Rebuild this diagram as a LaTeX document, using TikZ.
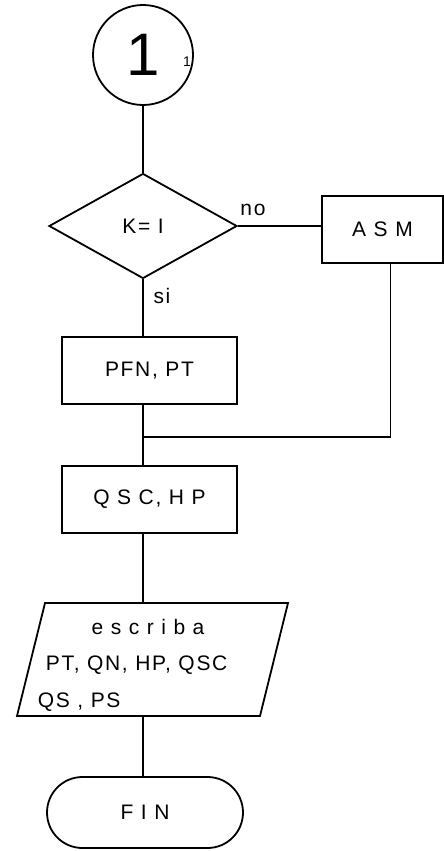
\documentclass[tikz,border=0pt]{standalone}
\usepackage{fontspec}
\setmainfont{Liberation Sans}[LetterSpace=8]
\usetikzlibrary{shapes.geometric,shapes.misc}

\begin{document}
\begin{tikzpicture}[x=1pt,y=-1pt,line width=1.8pt,
    every node/.style={font=\fontsize{21}{25}\selectfont},
    proc/.style={draw,rectangle,inner sep=0pt,minimum width=175pt,minimum height=67pt}]
    \useasboundingbox (0,0) rectangle (444,851);
    % connector and decision
    \node[draw,circle,minimum size=100pt,inner sep=0pt,font=\fontsize{60}{60}\selectfont] (con) at (143,55){1};
    \node[font=\fontsize{14}{14}\selectfont] (conn) at (187,62){1};
    \node[draw,diamond,minimum width=188pt,minimum height=105pt,inner sep=0pt] (dec) at (143,226){K= I};
    \node (no) at (253,210){no};
    \node (si) at (162,296){si};
    \node[proc,minimum width=121pt] (asm) at (382.5,229.5){A S M};
    % processes
    \node[proc] (pfn) at (149.5,370.5){PFN, PT};
    \node[proc] (qsc) at (149.5,499.5){Q S C, H P};
    \draw (45,603) -- (288,603) -- (260,716) -- (17,716) -- cycle;
    \coordinate (escn) at (143,603);
    \coordinate (escs) at (143,716);
    \node (escr) at (148,627){e s c r i b a};
    \node[anchor=west,inner sep=0pt] (outa) at (45,665){PT, QN, HP, QSC};
    \node[anchor=west,inner sep=0pt] (outb) at (37,702){QS , PS};
    \node[draw,rounded rectangle,minimum width=196pt,minimum height=71pt,inner sep=0pt] (fin) at (145,812.5){F I N};
    \coordinate (mrg) at (143,437);
    % lines
    \draw (con) -- (dec);
    \draw (dec.east) -- (dec.east -| asm.west);
    \draw (dec.south) -- (dec.south |- pfn.north);
    \draw (dec.south |- pfn.south) -- (dec.south |- qsc.north);
    \draw ([xshift=8pt]asm.south) |- (mrg);
    \draw (dec.south |- qsc.south) -- (escn);
    \draw (escs) -- (dec.south |- fin.north);
\end{tikzpicture}
\end{document}
